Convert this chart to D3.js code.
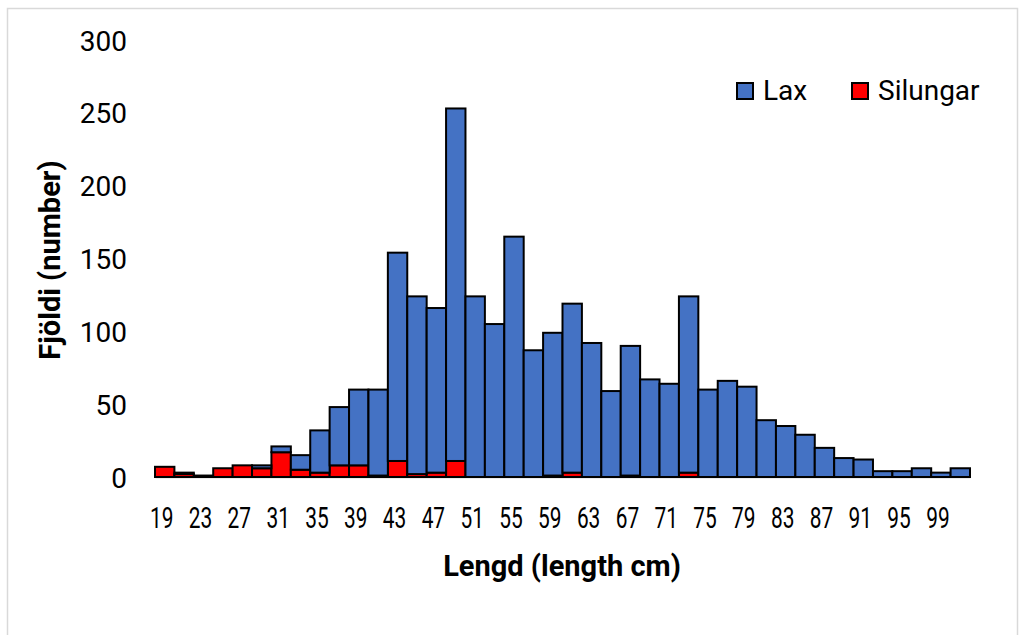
<!DOCTYPE html>
<html>
<head>
<meta charset="utf-8">
<script src="https://cdn.jsdelivr.net/npm/d3@7/dist/d3.min.js"></script>
<style>
  html, body { margin: 0; padding: 0; background: #fff; }
  svg { display: block; font-family: Roboto, "Noto Sans", sans-serif; }
</style>
</head>
<body>
<svg id="chart" width="1024" height="635"></svg>
<script>
// ---- data ----
const lengths = [19,21,23,25,27,29,31,33,35,37,39,41,43,45,47,49,51,53,55,57,59,61,63,65,67,69,71,73,75,77,79,81,83,85,87,89,91,93,95,97,99,101];
const lax      = [0,1,0,0,0,2,4,10,29,40,52,59,143,122,113,242,124,105,165,87,98,116,92,59,89,67,64,121,60,66,62,39,35,29,20,13,12,4,4,6,3,6];
const silungar = [7,2,1,6,8,6,17,5,3,8,8,1,11,2,3,11,0,0,0,0,1,3,0,0,1,0,0,3,0,0,0,0,0,0,0,0,0,0,0,0,0,0];
const xTickLabels = [19,23,27,31,35,39,43,47,51,55,59,63,67,71,75,79,83,87,91,95,99];
const yTickValues = [0,50,100,150,200,250,300];
const seriesNames = ["Silungar","Lax"];
const seriesColors = {"Lax":"#4472C4","Silungar":"#FF0000"};

const svg = d3.select("#chart");

// chart frame
svg.append("rect")
  .attr("x", 7.5).attr("y", 8.5).attr("width", 1010).attr("height", 640)
  .attr("fill", "none").attr("stroke", "#d9d9d9").attr("stroke-width", 1.5);

const plotLeft = 155, plotRight = 970, plotTop = 40, plotBottom = 477;

const x = d3.scaleBand().domain(lengths).range([plotLeft, plotRight]).padding(0);
const y = d3.scaleLinear().domain([0, 300]).range([plotBottom, plotTop]);

const table = lengths.map((l, i) => ({len: l, Lax: lax[i], Silungar: silungar[i]}));
const stacked = d3.stack().keys(seriesNames)(table);

// x axis
const xAxis = svg.append("g")
  .attr("transform", `translate(0,${plotBottom})`)
  .call(d3.axisBottom(x).tickValues(xTickLabels).tickSize(0).tickSizeOuter(0));
xAxis.select(".domain").attr("stroke", "#d9d9d9").attr("stroke-width", 2);
xAxis.selectAll("text")
  .attr("y", 51).attr("dy", 0)
  .attr("font-family", "Roboto")
  .attr("font-size", 29)
  .attr("fill", "#000")
  .attr("transform", "translate(-3,0) scale(0.72,1)");

// y axis
const yAxis = svg.append("g")
  .attr("transform", `translate(${plotLeft},0)`)
  .call(d3.axisLeft(y).tickValues(yTickValues).tickSize(0));
yAxis.select(".domain").remove();
yAxis.selectAll("text")
  .attr("x", -28).attr("dy", "0.36em")
  .attr("font-family", "Roboto")
  .attr("font-size", 28)
  .attr("fill", "#000");

// bars
svg.append("g").selectAll("g")
  .data(stacked)
  .join("g")
  .attr("fill", d => seriesColors[d.key])
  .selectAll("rect")
  .data(d => d)
  .join("rect")
  .attr("x", d => x(d.data.len))
  .attr("width", x.bandwidth())
  .attr("y", d => y(d[1]))
  .attr("height", d => y(d[0]) - y(d[1]))
  .attr("stroke", "#000")
  .attr("stroke-width", 2);

// axis titles
svg.append("text")
  .attr("transform", "translate(60,260) rotate(-90)")
  .attr("text-anchor", "middle")
  .attr("font-family", "Roboto")
  .attr("font-weight", "bold")
  .attr("font-size", 29)
  .text("Fjöldi (number)");

svg.append("text")
  .attr("x", 562).attr("y", 576)
  .attr("text-anchor", "middle")
  .attr("font-family", "Roboto")
  .attr("font-weight", "bold")
  .attr("font-size", 29)
  .text("Lengd (length cm)");

// legend
const legendItems = [
  {name: "Lax", sx: 737, tx: 763},
  {name: "Silungar", sx: 852, tx: 878}
];
const lg = svg.append("g");
legendItems.forEach(it => {
  lg.append("rect")
    .attr("x", it.sx).attr("y", 83).attr("width", 16).attr("height", 16)
    .attr("fill", seriesColors[it.name]).attr("stroke", "#000").attr("stroke-width", 2);
  lg.append("text")
    .attr("x", it.tx).attr("y", 100)
    .attr("font-family", "Roboto")
    .attr("font-size", 28)
    .attr("fill", "#000")
    .text(it.name);
});
</script>
</body>
</html>
